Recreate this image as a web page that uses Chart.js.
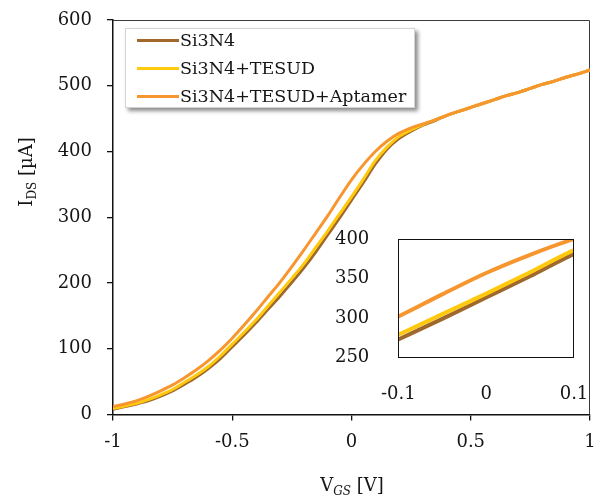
<!DOCTYPE html>
<html>
<head>
<meta charset="utf-8">
<script src="https://cdn.jsdelivr.net/npm/chart.js@4/dist/chart.umd.min.js"></script>
<style>
  html, body { margin: 0; padding: 0; background: #fff; }
  #wrap { position: relative; width: 594px; height: 497px; overflow: hidden; font-family: "DejaVu Serif", serif; }
  #main { position: absolute; left: 0; top: 0; }
  #inset { position: absolute; left: 330px; top: 225px; }
  #legend { position: absolute; left: 125px; top: 28px; width: 290px; height: 80px; background: #fff;
            border: 1px solid #d4d4d4; box-shadow: 3px 3px 4px rgba(0,0,0,0.45); box-sizing: border-box; }
  .row { position: absolute; left: 0; height: 28px; display: flex; align-items: center;
         font-size: 17.5px; color: #151515; white-space: nowrap; }
  .sw { width: 42px; height: 3px; margin-left: 11px; margin-right: 1px; }
</style>
</head>
<body>
<div id="wrap">
  <canvas id="main" width="594" height="497"></canvas>
  <canvas id="inset" width="262" height="175"></canvas>
  <div id="legend"></div>
</div>
<script>
// Gate voltage sweep (V)
const vgs = [-1.00, -0.95, -0.90, -0.85, -0.80, -0.75, -0.70, -0.65, -0.60, -0.55,
             -0.50, -0.45, -0.40, -0.35, -0.30, -0.25, -0.20, -0.15, -0.10, -0.05,
              0.00,  0.05,  0.10,  0.15,  0.20,  0.25,  0.30,  0.35,  0.40,  0.45,
              0.50,  0.55,  0.60,  0.65,  0.70,  0.75,  0.80,  0.85,  0.90,  0.95, 1.00];

// Drain current (µA) for each surface
const idsSi3N4 = [8, 12, 16, 21, 28, 36, 46, 57, 70, 85,
                  103, 121, 140, 160, 180, 201, 223, 247, 273, 299,
                  326, 353, 381, 404, 420, 431, 440, 447, 455, 461,
                  467, 473, 479, 485, 490, 496, 502, 507, 513, 518, 524];
const idsTesud = [9, 13, 17, 23, 30, 38, 49, 60, 73, 89,
                  107, 125, 144, 165, 186, 207, 229, 254, 279, 305,
                  331, 358, 386, 407, 423, 433, 441, 448, 455, 461,
                  467, 473, 479, 485, 490, 496, 502, 507, 513, 518, 524];
const idsAptamer = [12, 16, 21, 28, 36, 45, 56, 68, 82, 98,
                    116, 136, 157, 179, 201, 225, 250, 276, 302, 330,
                    357, 380, 400, 416, 428, 436, 442, 448, 455, 461,
                    467, 473, 479, 485, 490, 496, 502, 507, 513, 518, 524];

const seriesNames = ['Si3N4', 'Si3N4+TESUD', 'Si3N4+TESUD+Aptamer'];
const seriesColors = ['#A0692B', '#FFC90E', '#F7962E'];
const seriesValues = [idsSi3N4, idsTesud, idsAptamer];

// Tick values
const mainXTicks = [-1, -0.5, 0, 0.5, 1];
const mainYTicks = [0, 100, 200, 300, 400, 500, 600];
const insetXTicks = [-0.1, 0, 0.1];
const insetYTicks = [250, 300, 350, 400];

const FONT = '"DejaVu Serif", serif';
const TEXT = '#151515';

function makeDatasets(width) {
  return seriesNames.map((name, i) => ({
    label: name,
    data: vgs.map((v, k) => ({ x: v, y: seriesValues[i][k] })),
    borderColor: seriesColors[i],
    borderWidth: width,
    pointRadius: 0,
    cubicInterpolationMode: 'monotone',
    clip: 0,
    order: 3 - i   // later series are painted above earlier ones
  }));
}

function fixedTicks(values) {
  return scale => { scale.ticks = values.map(v => ({ value: v })); };
}

function fmt(v) {
  return String(Math.round(v * 100) / 100);
}

// Axis titles with subscripts
function subText(ctx, base, sub, rest, cx, cy, italicSub) {
  const big = '18px ' + FONT;
  const small = (italicSub ? 'italic ' : '') + '12px ' + FONT;
  ctx.font = big; const w1 = ctx.measureText(base).width;
  ctx.font = small; const w2 = ctx.measureText(sub).width;
  ctx.font = big; const w3 = ctx.measureText(rest).width;
  let x = cx - (w1 + w2 + w3) / 2;
  ctx.textBaseline = 'alphabetic';
  ctx.textAlign = 'left';
  ctx.font = big; ctx.fillText(base, x, cy + 6); x += w1;
  ctx.font = small; ctx.fillText(sub, x, cy + 10); x += w2;
  ctx.font = big; ctx.fillText(rest, x, cy + 6);
}

const mainDecor = {
  id: 'mainDecor',
  beforeDatasetsDraw(chart) {
    const { ctx, chartArea: a } = chart;
    ctx.save();
    ctx.strokeStyle = '#3c3c3c';
    ctx.lineWidth = 1;
    ctx.beginPath();
    ctx.moveTo(a.left, a.top + 0.5);
    ctx.lineTo(a.right - 0.5, a.top + 0.5);
    ctx.lineTo(a.right - 0.5, a.bottom);
    ctx.stroke();
    ctx.restore();
  },
  afterDraw(chart) {
    const ctx = chart.ctx;
    ctx.save();
    ctx.fillStyle = TEXT;
    subText(ctx, 'V', 'GS', ' [V]', 352, 485, true);
    ctx.translate(26, 172);
    ctx.rotate(-Math.PI / 2);
    subText(ctx, 'I', 'DS', ' [µA]', 0, 0, false);
    ctx.restore();
  }
};

const insetFrame = {
  id: 'insetFrame',
  afterDatasetsDraw(chart) {
    const { ctx, chartArea: a } = chart;
    ctx.save();
    ctx.strokeStyle = '#111';
    ctx.lineWidth = 1;
    ctx.strokeRect(Math.round(a.left) + 0.5, Math.round(a.top) + 0.5,
                   Math.round(a.right - a.left) - 1, Math.round(a.bottom - a.top) - 1);
    ctx.restore();
  }
};

const common = {
  responsive: false,
  animation: false,
  devicePixelRatio: 1,
  plugins: { legend: { display: false }, tooltip: { enabled: false } }
};

new Chart(document.getElementById('main'), {
  type: 'line',
  data: { datasets: makeDatasets(3) },
  options: Object.assign({}, common, {
    layout: { padding: { left: 0, top: 20, right: 4, bottom: 0 } },
    scales: {
      x: {
        type: 'linear', min: -1, max: 1,
        afterBuildTicks: fixedTicks(mainXTicks),
        afterFit(s) { s.height = 82.5; s.paddingLeft = 0; s.paddingRight = 0; },
        grid: { display: true, drawOnChartArea: false, drawTicks: true, tickLength: 6, color: '#111', lineWidth: 1.3 },
        border: { display: true, color: '#111', width: 1.5 },
        ticks: { padding: 11, color: TEXT, font: { family: FONT, size: 18 }, maxRotation: 0, callback: v => fmt(v) }
      },
      y: {
        type: 'linear', min: 0, max: 600,
        afterBuildTicks: fixedTicks(mainYTicks),
        afterFit(s) { s.width = 113; s.paddingTop = 0; s.paddingBottom = 0; },
        grid: { display: true, drawOnChartArea: false, drawTicks: true, tickLength: 6, color: '#111', lineWidth: 1.3 },
        border: { display: true, color: '#111', width: 1.5 },
        ticks: { padding: 15, color: TEXT, font: { family: FONT, size: 18 }, callback: v => fmt(v) }
      }
    }
  }),
  plugins: [mainDecor]
});

new Chart(document.getElementById('inset'), {
  type: 'line',
  data: { datasets: makeDatasets(4) },
  options: Object.assign({}, common, {
    layout: { padding: { left: 0, top: 14, right: 18, bottom: 0 } },
    scales: {
      x: {
        type: 'linear', min: -0.1, max: 0.1,
        afterBuildTicks: fixedTicks(insetXTicks),
        afterFit(s) { s.height = 42.3; s.paddingLeft = 0; s.paddingRight = 0; },
        grid: { display: false },
        border: { display: false },
        ticks: { padding: 18, color: TEXT, font: { family: FONT, size: 18 }, maxRotation: 0, callback: v => fmt(v) }
      },
      y: {
        type: 'linear', min: 250, max: 400,
        afterBuildTicks: fixedTicks(insetYTicks),
        afterFit(s) { s.width = 68.3; s.paddingTop = 0; s.paddingBottom = 0; },
        grid: { display: false },
        border: { display: false },
        ticks: { padding: 21, color: TEXT, font: { family: FONT, size: 18 }, callback: v => fmt(v) }
      }
    }
  }),
  plugins: [insetFrame]
});

// Legend box
const legend = document.getElementById('legend');
seriesNames.forEach((name, i) => {
  const row = document.createElement('div');
  row.className = 'row';
  row.style.top = (i * 28 - 3) + 'px';
  const sw = document.createElement('span');
  sw.className = 'sw';
  sw.style.background = seriesColors[i];
  const label = document.createElement('span');
  label.textContent = name;
  row.appendChild(sw);
  row.appendChild(label);
  legend.appendChild(row);
});
</script>
</body>
</html>
